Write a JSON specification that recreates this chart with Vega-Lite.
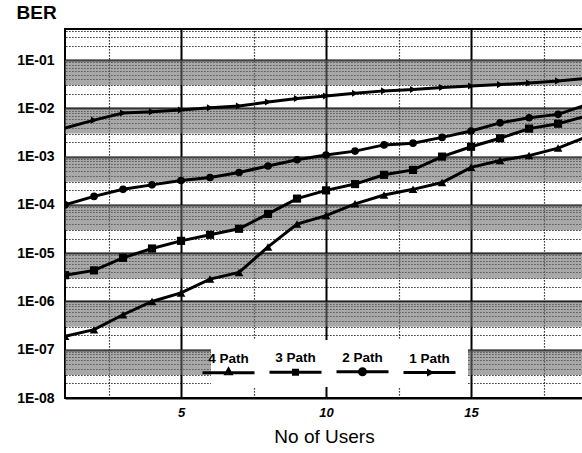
{
  "$schema": "https://vega.github.io/schema/vega-lite/v6.json",
  "width": 518,
  "height": 369,
  "autosize": "none",
  "padding": {"left": 65, "top": 29, "right": 0, "bottom": 55},
  "background": "white",
  "config": {"view": {"stroke": "black", "strokeWidth": 2}, "font": "Liberation Sans"},
  "datasets": {
    "ber": [
      {"series": "1 Path", "users": 1, "ber": 0.0039},
      {"series": "1 Path", "users": 2, "ber": 0.0057},
      {"series": "1 Path", "users": 3, "ber": 0.008},
      {"series": "1 Path", "users": 4, "ber": 0.0085},
      {"series": "1 Path", "users": 5, "ber": 0.0092},
      {"series": "1 Path", "users": 6, "ber": 0.0103},
      {"series": "1 Path", "users": 7, "ber": 0.0112},
      {"series": "1 Path", "users": 8, "ber": 0.0135},
      {"series": "1 Path", "users": 9, "ber": 0.016},
      {"series": "1 Path", "users": 10, "ber": 0.018},
      {"series": "1 Path", "users": 11, "ber": 0.0205},
      {"series": "1 Path", "users": 12, "ber": 0.023},
      {"series": "1 Path", "users": 13, "ber": 0.0245},
      {"series": "1 Path", "users": 14, "ber": 0.027},
      {"series": "1 Path", "users": 15, "ber": 0.029},
      {"series": "1 Path", "users": 16, "ber": 0.031},
      {"series": "1 Path", "users": 17, "ber": 0.0335},
      {"series": "1 Path", "users": 18, "ber": 0.037},
      {"series": "1 Path", "users": 19, "ber": 0.042},
      {"series": "2 Path", "users": 1, "ber": 0.0001},
      {"series": "2 Path", "users": 2, "ber": 0.00015},
      {"series": "2 Path", "users": 3, "ber": 0.00021},
      {"series": "2 Path", "users": 4, "ber": 0.00026},
      {"series": "2 Path", "users": 5, "ber": 0.00032},
      {"series": "2 Path", "users": 6, "ber": 0.00037},
      {"series": "2 Path", "users": 7, "ber": 0.00047},
      {"series": "2 Path", "users": 8, "ber": 0.00064},
      {"series": "2 Path", "users": 9, "ber": 0.00086},
      {"series": "2 Path", "users": 10, "ber": 0.00108},
      {"series": "2 Path", "users": 11, "ber": 0.0013},
      {"series": "2 Path", "users": 12, "ber": 0.00175},
      {"series": "2 Path", "users": 13, "ber": 0.0019},
      {"series": "2 Path", "users": 14, "ber": 0.0025},
      {"series": "2 Path", "users": 15, "ber": 0.0034},
      {"series": "2 Path", "users": 16, "ber": 0.005},
      {"series": "2 Path", "users": 17, "ber": 0.0064},
      {"series": "2 Path", "users": 18, "ber": 0.0075},
      {"series": "2 Path", "users": 19, "ber": 0.012},
      {"series": "3 Path", "users": 1, "ber": 0.0000035},
      {"series": "3 Path", "users": 2, "ber": 0.0000044},
      {"series": "3 Path", "users": 3, "ber": 0.000008},
      {"series": "3 Path", "users": 4, "ber": 0.0000125},
      {"series": "3 Path", "users": 5, "ber": 0.000018},
      {"series": "3 Path", "users": 6, "ber": 0.000024},
      {"series": "3 Path", "users": 7, "ber": 0.000032},
      {"series": "3 Path", "users": 8, "ber": 0.000065},
      {"series": "3 Path", "users": 9, "ber": 0.000135},
      {"series": "3 Path", "users": 10, "ber": 0.0002},
      {"series": "3 Path", "users": 11, "ber": 0.00027},
      {"series": "3 Path", "users": 12, "ber": 0.00042},
      {"series": "3 Path", "users": 13, "ber": 0.00053},
      {"series": "3 Path", "users": 14, "ber": 0.001},
      {"series": "3 Path", "users": 15, "ber": 0.0016},
      {"series": "3 Path", "users": 16, "ber": 0.0024},
      {"series": "3 Path", "users": 17, "ber": 0.0038},
      {"series": "3 Path", "users": 18, "ber": 0.0048},
      {"series": "3 Path", "users": 19, "ber": 0.007},
      {"series": "4 Path", "users": 1, "ber": 0.00000019},
      {"series": "4 Path", "users": 2, "ber": 0.00000026},
      {"series": "4 Path", "users": 3, "ber": 0.00000053},
      {"series": "4 Path", "users": 4, "ber": 0.000001},
      {"series": "4 Path", "users": 5, "ber": 0.0000015},
      {"series": "4 Path", "users": 6, "ber": 0.0000029},
      {"series": "4 Path", "users": 7, "ber": 0.000004},
      {"series": "4 Path", "users": 8, "ber": 0.0000135},
      {"series": "4 Path", "users": 9, "ber": 0.00004},
      {"series": "4 Path", "users": 10, "ber": 0.00006},
      {"series": "4 Path", "users": 11, "ber": 0.000105},
      {"series": "4 Path", "users": 12, "ber": 0.00016},
      {"series": "4 Path", "users": 13, "ber": 0.00021},
      {"series": "4 Path", "users": 14, "ber": 0.00029},
      {"series": "4 Path", "users": 15, "ber": 0.0006},
      {"series": "4 Path", "users": 16, "ber": 0.00083},
      {"series": "4 Path", "users": 17, "ber": 0.00105},
      {"series": "4 Path", "users": 18, "ber": 0.0015},
      {"series": "4 Path", "users": 19, "ber": 0.0026}
    ],
    "bands": [
      {"hi": 0.1, "lo": 0.03},
      {"hi": 0.01, "lo": 0.003},
      {"hi": 0.001, "lo": 0.0003},
      {"hi": 0.0001, "lo": 0.00003},
      {"hi": 0.00001, "lo": 0.000003},
      {"hi": 0.000001, "lo": 0.0000003},
      {"hi": 0.0000001, "lo": 0.00000003}
    ]
  },
  "resolve": {"scale": {"shape": "independent", "size": "independent"}, "axis": {"x": "independent", "y": "independent"}},
  "layer": [
    {
      "data": {"name": "bands"},
      "mark": {"type": "rect", "fill": "#6e6e6e", "opacity": 0.6, "clip": true},
      "encoding": {
        "y": {"field": "hi", "type": "quantitative",
          "scale": {"type": "log", "domain": [1e-8, 0.44], "nice": false},
          "axis": {"orient": "right", "values": [2e-8,3e-8,4e-8,5e-8,6e-8,7e-8,8e-8,9e-8,2e-7,3e-7,4e-7,5e-7,6e-7,7e-7,8e-7,9e-7,2e-6,3e-6,4e-6,5e-6,6e-6,7e-6,8e-6,9e-6,2e-5,3e-5,4e-5,5e-5,6e-5,7e-5,8e-5,9e-5,2e-4,3e-4,4e-4,5e-4,6e-4,7e-4,8e-4,9e-4,2e-3,3e-3,4e-3,5e-3,6e-3,7e-3,8e-3,9e-3,2e-2,3e-2,4e-2,5e-2,6e-2,7e-2,8e-2,9e-2,0.2,0.3,0.4],
            "grid": true, "gridColor": "black", "gridWidth": 1.2, "gridDash": [1.2, 1.8], "gridOpacity": 1,
            "labels": false, "ticks": false, "domain": false, "title": null}},
        "y2": {"field": "lo"},
        "x": {"datum": 1, "type": "quantitative",
          "scale": {"domain": [1, 18.86], "nice": false, "zero": false},
          "axis": {"orient": "top", "values": [2.5, 7.5, 12.5, 17.5],
            "grid": true, "gridColor": "black", "gridWidth": 1.2, "gridDash": [1.2, 1.8], "gridOpacity": 1,
            "labels": false, "ticks": false, "domain": false, "title": null}},
        "x2": {"datum": 18.86}
      }
    },
    {
      "data": {"name": "ber"},
      "mark": {"type": "line", "color": "black", "strokeWidth": 3, "clip": true},
      "encoding": {
        "x": {"field": "users", "type": "quantitative",
          "scale": {"domain": [1, 18.86], "nice": false, "zero": false},
          "axis": {"orient": "bottom", "values": [5, 10, 15], "grid": true, "gridColor": "black", "gridWidth": 2, "gridOpacity": 1,
            "ticks": false, "domain": false, "labelFont": "Liberation Sans", "labelFontSize": 13, "labelFontWeight": "bold", "labelFontStyle": "italic",
            "labelColor": "black", "labelPadding": 8, "title": "No of Users", "titleFont": "Liberation Sans", "titleFontSize": 19,
            "titleFontWeight": "normal", "titleColor": "black", "titlePadding": 8}},
        "y": {"field": "ber", "type": "quantitative",
          "scale": {"type": "log", "domain": [1e-8, 0.44], "nice": false},
          "axis": {"orient": "left", "values": [1e-8, 1e-7, 1e-6, 1e-5, 1e-4, 1e-3, 1e-2, 1e-1],
            "labelExpr": "'1E-0' + round(-log(datum.value) / LN10)",
            "grid": true, "gridColor": "black", "gridWidth": 2, "gridOpacity": 1,
            "ticks": false, "domain": false, "labelFont": "Liberation Sans", "labelFontSize": 14, "labelFontWeight": "bold",
            "labelColor": "black", "labelPadding": 11, "labelOverlap": false,
            "title": "BER", "titleAngle": 0, "titleX": -49, "titleY": -26, "titleAlign": "left", "titleBaseline": "top",
            "titleFont": "Liberation Sans", "titleFontSize": 19, "titleFontWeight": "bold", "titleColor": "black"}},
        "detail": {"field": "series", "type": "nominal"}
      }
    },
    {
      "data": {"name": "ber"},
      "mark": {"type": "point", "filled": true, "color": "black", "opacity": 1, "clip": true},
      "encoding": {
        "x": {"field": "users", "type": "quantitative", "scale": {"domain": [1, 18.86], "nice": false, "zero": false}, "axis": null},
        "y": {"field": "ber", "type": "quantitative", "scale": {"type": "log", "domain": [1e-8, 0.44], "nice": false}, "axis": null},
        "shape": {"field": "series", "type": "nominal",
          "scale": {"domain": ["4 Path", "3 Path", "2 Path", "1 Path"], "range": ["triangle-up", "square", "circle", "triangle-right"]},
          "legend": null},
        "size": {"field": "series", "type": "ordinal",
          "scale": {"domain": ["4 Path", "3 Path", "2 Path", "1 Path"], "range": [75, 50, 75, 30]},
          "legend": null}
      }
    },
    {
      "data": {"name": "ber"},
      "transform": [{"filter": "false"}],
      "mark": {"type": "point", "filled": false, "color": "black", "strokeWidth": 3, "opacity": 1, "size": 400},
      "encoding": {
        "x": {"field": "users", "type": "quantitative", "scale": {"domain": [1, 18.86], "nice": false, "zero": false}, "axis": null},
        "y": {"field": "ber", "type": "quantitative", "scale": {"type": "log", "domain": [1e-8, 0.44], "nice": false}, "axis": null},
        "shape": {"field": "series", "type": "nominal",
          "scale": {"domain": ["4 Path", "3 Path", "2 Path", "1 Path"],
            "range": [
              "M-2.6,1.4H2.6M0,1.05L0.25,1.5L-0.25,1.5Z",
              "M-2.6,1.4H2.6M-0.2,1.2H0.2V1.6H-0.2Z",
              "M-2.6,1.4H2.6M0.3,1.4A0.3,0.3,0,1,1,-0.3,1.4A0.3,0.3,0,1,1,0.3,1.4ZM0.12,1.4A0.12,0.12,0,1,1,-0.12,1.4A0.12,0.12,0,1,1,0.12,1.4Z",
              "M-2.6,1.4H2.6M0.2,1.4L-0.1,1.25L-0.1,1.55Z"
            ]},
          "legend": {
            "title": null, "orient": "none", "legendX": 146, "legendY": 311, "direction": "horizontal", "columns": 4,
            "fillColor": "white", "padding": 6, "columnPadding": 2, "symbolSize": 400, "symbolStrokeWidth": 3,
            "symbolStrokeColor": "black", "symbolOpacity": 1,
            "labelFont": "Liberation Sans", "labelFontSize": 13.5, "labelFontWeight": "bold", "labelColor": "black",
            "labelAlign": "center", "labelBaseline": "middle", "labelOffset": -11.5
          }}
      }
    }
  ]
}
